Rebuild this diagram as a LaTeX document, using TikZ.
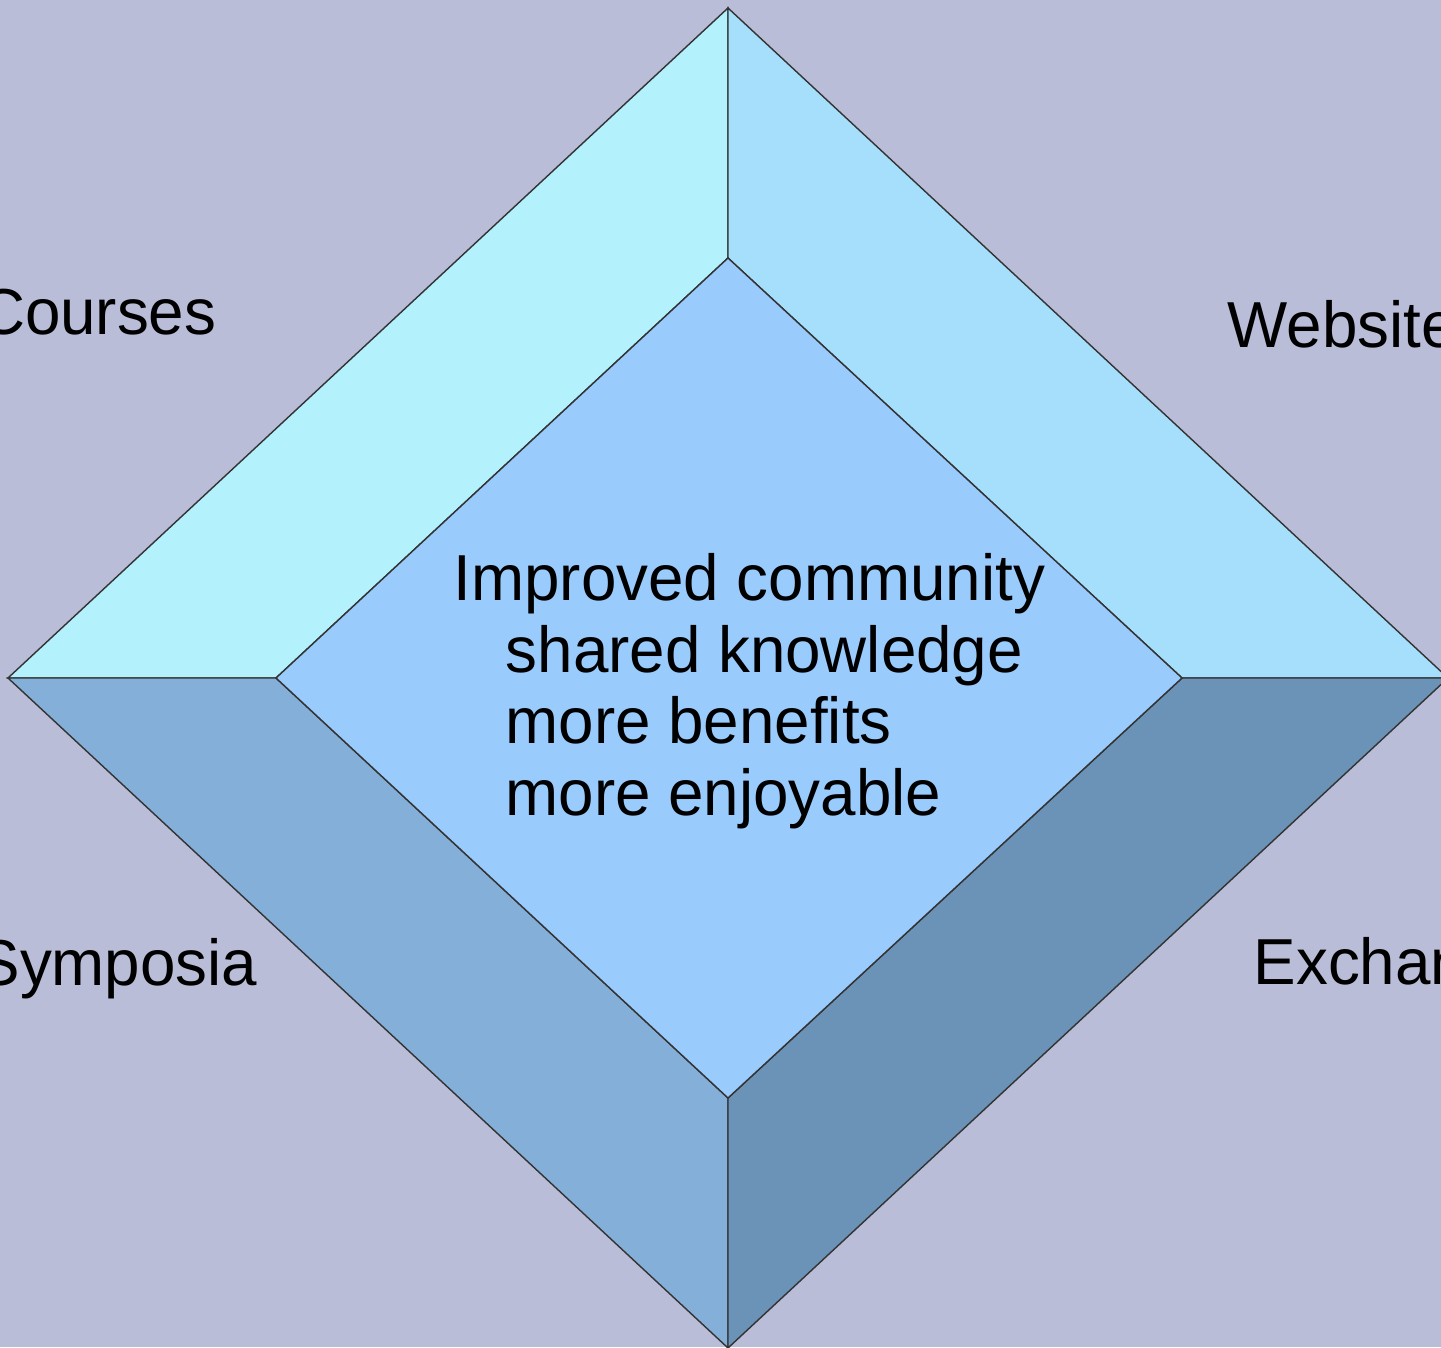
\documentclass[tikz,border=0pt]{standalone}
\usepackage{fontspec}
\setmainfont[FakeStretch=0.98]{Liberation Sans}
\usepackage{tikz}

\definecolor{bgcol}{HTML}{B9BDD8}
\definecolor{facetl}{HTML}{B3F1FD}
\definecolor{facetr}{HTML}{A6DFFC}
\definecolor{facebl}{HTML}{84AFD9}
\definecolor{facebr}{HTML}{6B92B7}
\definecolor{facemid}{HTML}{9ACBFD}

\begin{document}
\begin{tikzpicture}[
    facet/.style={draw=black!80, line width=0.4pt, line join=miter},
    every node/.style={font=\fontsize{18.5}{20}\selectfont, inner sep=0pt},
    label left/.style={anchor=base east},
    label right/.style={anchor=base west},
    body line/.style={anchor=base west}
]
    % Page and background
    \useasboundingbox (0,0) rectangle (14.41,13.47);
    \fill[bgcol] (0,0) rectangle (14.41,13.47);
    \clip (0,0) rectangle (14.41,13.47);

    % Outer diamond corners
    \coordinate (ot) at (7.28,13.39);
    \coordinate (ol) at (0.08,6.69);
    \coordinate (or) at (14.48,6.69);
    \coordinate (ob) at (7.28,-0.01);
    % Inner diamond corners
    \coordinate (it) at (7.28,10.89);
    \coordinate (il) at (2.76,6.69);
    \coordinate (ir) at (11.82,6.69);
    \coordinate (ib) at (7.28,2.49);

    % Bevel faces
    \filldraw[facet, fill=facetl] (ol) -- (ot) -- (it) -- (il) -- cycle;
    \filldraw[facet, fill=facetr] (ot) -- (or) -- (ir) -- (it) -- cycle;
    \filldraw[facet, fill=facebl] (ol) -- (il) -- (ib) -- (ob) -- cycle;
    \filldraw[facet, fill=facebr] (ir) -- (or) -- (ob) -- (ib) -- cycle;
    % Centre face
    \filldraw[facet, fill=facemid] (it) -- (ir) -- (ib) -- (il) -- cycle;

    % Corner labels
    \node[label left] (courses) at (2.17,10.12) {Courses};
    \node[label right] (website) at (12.27,9.99) {Website};
    \node[label left] (symposia) at (2.58,3.62) {Symposia};
    \node[label right] (exchange) at (12.53,3.63) {Exchange};

    % Centre text
    \node[body line] (improved) at (4.53,7.47) {Improved community};
    \node[body line] (shared) at (5.05,6.75) {shared knowledge};
    \node[body line] (benefits) at (5.05,6.04) {more benefits};
    \node[body line] (enjoy) at (5.05,5.32) {more enjoyable};
\end{tikzpicture}
\end{document}
